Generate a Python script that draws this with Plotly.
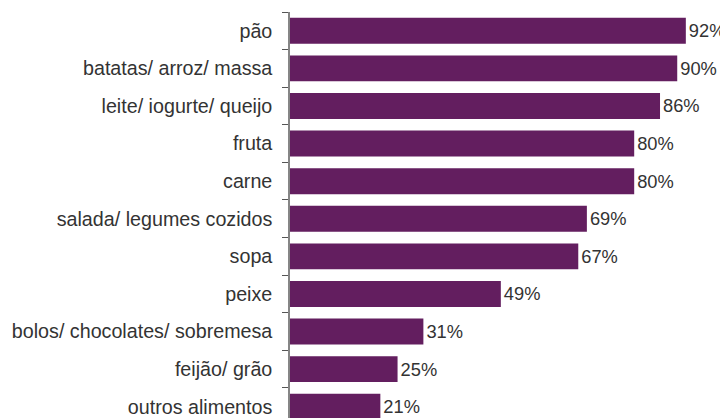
import plotly.graph_objects as go

categories = ["pão", "batatas/ arroz/ massa", "leite/ iogurte/ queijo", "fruta", "carne",
              "salada/ legumes cozidos", "sopa", "peixe", "bolos/ chocolates/ sobremesa",
              "feijão/ grão", "outros alimentos"]
values = [92, 90, 86, 80, 80, 69, 67, 49, 31, 25, 21]
labels = [f"{v}%" for v in values]

fig = go.Figure(go.Bar(
    x=values, y=categories, orientation="h",
    marker=dict(color="#631e5f", line=dict(width=0)),
    width=0.69,
    text=labels, textposition="outside", cliponaxis=False,
    textfont=dict(family="Liberation Sans, Arial, sans-serif", size=18.3, color="#333333"),
))
fig.update_layout(
    template="none",
    width=720, height=410,
    margin=dict(l=282, r=0, t=4, b=0, pad=0),
    plot_bgcolor="white", paper_bgcolor="white",
    showlegend=False,
    font=dict(family="Liberation Sans, Arial, sans-serif", size=19.7, color="#333333"),
)
fig.update_xaxes(range=[0, 101.8], visible=False, showgrid=False, automargin=False)
fig.update_yaxes(
    type="category", categoryorder="array", categoryarray=categories,
    range=[10.3, -0.5], showgrid=False, automargin=False, zeroline=False,
    showline=True, linecolor="#868686", linewidth=1.5,
    ticks="outside", tickson="boundaries", ticklen=6, tickcolor="#555555", tickwidth=1,
    ticklabelstandoff=12,
    tickfont=dict(size=19.7, color="#333333"),
)
fig.write_html("out.html")
